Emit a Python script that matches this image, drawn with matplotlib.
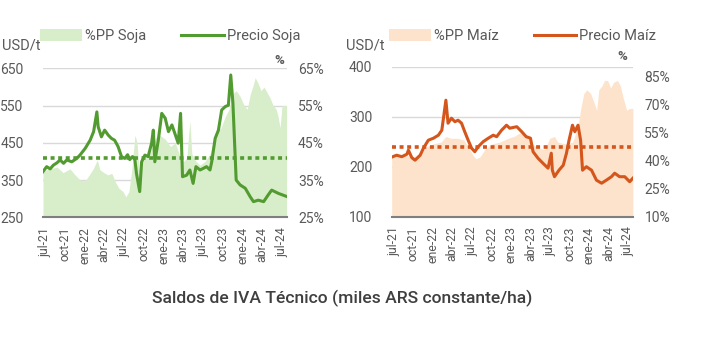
import numpy as np
import pandas as pd
import matplotlib
matplotlib.use("Agg")
import matplotlib.pyplot as plt
from matplotlib.lines import Line2D
from matplotlib.patches import Patch

plt.rcParams['font.family'] = ['Roboto', 'DejaVu Sans']

# ---- data ----
soja_price_dates = ['2021-06-21', '2021-07-09', '2021-07-25', '2021-08-09', '2021-08-25', '2021-09-09',
                    '2021-09-25', '2021-10-10', '2021-11-02', '2021-11-25', '2021-12-10', '2022-01-03',
                    '2022-01-26', '2022-02-11', '2022-02-26', '2022-03-04', '2022-03-19', '2022-04-03',
                    '2022-04-19', '2022-05-04', '2022-05-19', '2022-06-04', '2022-06-20', '2022-07-05',
                    '2022-07-18', '2022-07-28', '2022-08-10', '2022-08-21', '2022-08-28', '2022-09-12',
                    '2022-09-21', '2022-10-06', '2022-10-21', '2022-11-06', '2022-11-14', '2022-11-21',
                    '2022-12-07', '2022-12-23', '2023-01-08', '2023-01-23', '2023-02-08', '2023-02-24',
                    '2023-03-09', '2023-03-20', '2023-03-29', '2023-04-17', '2023-05-02', '2023-05-17',
                    '2023-05-30', '2023-06-18', '2023-07-02', '2023-07-18', '2023-08-03', '2023-08-11',
                    '2023-08-27', '2023-09-11', '2023-09-26', '2023-10-12', '2023-10-27', '2023-11-07',
                    '2023-11-17', '2023-12-02', '2023-12-20', '2024-01-13', '2024-02-05', '2024-02-20',
                    '2024-03-13', '2024-04-07', '2024-04-28', '2024-05-14', '2024-06-15', '2024-07-22']
soja_price = [372, 386, 380, 390, 396, 404, 395, 404, 399, 408, 417, 435,
              457, 480, 533, 493, 466, 484, 471, 462, 457, 440, 413, 408,
              418, 405, 413, 404, 368, 319, 399, 417, 413, 449, 484, 399,
              457, 529, 516, 480, 498, 471, 449, 529, 359, 363, 377, 341,
              386, 377, 381, 386, 377, 399, 462, 484, 538, 547, 551, 632,
              556, 350, 337, 328, 305, 292, 296, 292, 310, 323, 314, 306]
soja_avg = 410

soja_pp_dates = ['2021-06-22', '2021-07-24', '2021-08-26', '2021-09-23', '2021-10-25', '2021-11-17',
                 '2021-12-11', '2022-01-03', '2022-01-22', '2022-02-09', '2022-02-28', '2022-03-12',
                 '2022-03-30', '2022-04-18', '2022-05-06', '2022-05-25', '2022-06-08', '2022-06-27',
                 '2022-07-10', '2022-07-24', '2022-08-07', '2022-08-21', '2022-08-31', '2022-09-09',
                 '2022-09-23', '2022-10-11', '2022-10-30', '2022-11-13', '2022-11-27', '2022-12-15',
                 '2023-01-08', '2023-02-01', '2023-02-24', '2023-03-07', '2023-03-21', '2023-04-04',
                 '2023-04-18', '2023-05-02', '2023-05-11', '2023-05-30', '2023-06-18', '2023-07-11',
                 '2023-08-03', '2023-08-17', '2023-09-05', '2023-09-23', '2023-10-12', '2023-10-30',
                 '2023-11-13', '2023-12-02', '2023-12-20', '2024-01-08', '2024-01-22', '2024-02-05',
                 '2024-02-19', '2024-02-28', '2024-03-12', '2024-03-26', '2024-04-09', '2024-04-23',
                 '2024-05-07', '2024-05-21', '2024-06-04', '2024-06-13', '2024-06-22', '2024-07-01',
                 '2024-07-22']
soja_pp = [37.5, 38, 38.5, 37, 38, 36.4, 35, 34.8, 36.4, 38, 40.4, 37.8,
           37, 36.4, 36.8, 34.2, 32.8, 31.9, 30.5, 31.9, 38, 47.1, 45, 37.7,
           40.4, 41, 42, 44.9, 46.5, 47, 46, 44, 45, 43, 41, 40,
           41, 51, 42, 40, 39, 40, 42, 45, 48, 49, 52, 54,
           58, 59, 57.5, 55, 54, 58, 60.5, 62.5, 61, 59, 60, 58.5,
           57, 55, 54, 52, 49, 55, 55]

maiz_price_dates = ['2021-06-27', '2021-07-15', '2021-08-08', '2021-09-01', '2021-09-08', '2021-09-24',
                    '2021-10-09', '2021-11-02', '2021-11-17', '2021-12-10', '2022-01-03', '2022-01-26',
                    '2022-02-11', '2022-03-02', '2022-03-12', '2022-03-28', '2022-04-13', '2022-04-28',
                    '2022-05-14', '2022-05-29', '2022-06-14', '2022-06-30', '2022-07-15', '2022-07-31',
                    '2022-08-23', '2022-09-16', '2022-10-09', '2022-10-25', '2022-11-17', '2022-12-10',
                    '2022-12-25', '2023-01-27', '2023-02-19', '2023-03-12', '2023-04-01', '2023-04-13',
                    '2023-05-06', '2023-05-29', '2023-06-22', '2023-07-07', '2023-07-12', '2023-07-22',
                    '2023-08-12', '2023-09-01', '2023-09-16', '2023-09-28', '2023-10-14', '2023-10-25',
                    '2023-11-09', '2023-11-21', '2023-11-30', '2023-12-18', '2024-01-11', '2024-02-03',
                    '2024-02-27', '2024-03-20', '2024-04-13', '2024-04-28', '2024-05-21', '2024-06-14',
                    '2024-07-07', '2024-07-22']
maiz_price = [220, 223, 220, 225, 233, 218, 213, 223, 237, 253, 257, 263,
              273, 333, 287, 297, 290, 293, 287, 270, 253, 237, 230, 240,
              250, 257, 263, 260, 273, 283, 277, 280, 270, 260, 257, 230,
              217, 207, 197, 227, 193, 180, 193, 203, 227, 253, 283, 270,
              283, 253, 193, 200, 193, 173, 167, 173, 180, 187, 180, 180,
              170, 177]
maiz_avg = 240

maiz_pp_dates = ['2021-06-22', '2021-08-23', '2021-09-30', '2021-11-02', '2021-11-25', '2022-01-02',
                 '2022-02-08', '2022-03-02', '2022-03-25', '2022-04-27', '2022-05-25', '2022-06-17',
                 '2022-07-06', '2022-07-20', '2022-08-08', '2022-08-31', '2022-10-03', '2022-11-10',
                 '2022-12-17', '2023-01-14', '2023-02-11', '2023-03-14', '2023-04-02', '2023-04-30',
                 '2023-06-07', '2023-06-30', '2023-07-22', '2023-08-06', '2023-09-08', '2023-10-15',
                 '2023-11-08', '2023-11-22', '2023-12-06', '2023-12-20', '2024-01-07', '2024-01-26',
                 '2024-02-04', '2024-02-14', '2024-02-28', '2024-03-12', '2024-03-26', '2024-04-09',
                 '2024-04-23', '2024-05-11', '2024-05-25', '2024-06-06', '2024-06-23', '2024-07-07',
                 '2024-07-22']
maiz_pp = [43, 43, 42, 44, 47, 49, 50, 53, 52, 52, 51, 47,
           43, 41, 42, 46, 49, 50, 52, 53, 55, 54, 50, 47,
           46, 52, 53, 50, 49, 50, 58, 68, 76, 78, 76, 70,
           67, 78, 80, 83, 83, 79, 82, 83, 80, 74, 67, 68,
           68]

tick_dates = ['2021-07-01', '2021-10-01', '2022-01-01', '2022-04-01', '2022-07-01', '2022-10-01',
              '2023-01-01', '2023-04-01', '2023-07-01', '2023-10-01', '2024-01-01', '2024-04-01',
              '2024-07-01']
tick_labels = ['jul-21', 'oct-21', 'ene-22', 'abr-22', 'jul-22', 'oct-22', 'ene-23', 'abr-23',
               'jul-23', 'oct-23', 'ene-24', 'abr-24', 'jul-24']

x_start, x_end = '2021-06-22', '2024-07-24'
TXT = '#595959'

fig = plt.figure(figsize=(7.24, 3.47), dpi=100)


def panel(rect, pdates, price, avg, adates, pp, ylim, yticks, pct_lim, pct_ticks,
          line_col, area_col, names):
    ax = fig.add_axes(rect)      # grid + left/x labels
    ax2 = ax.twinx()             # %PP area
    ax3 = ax.twinx()             # price line on top

    ad = pd.to_datetime(adates)
    ax2.fill_between(ad, pct_lim[0], pp, color=area_col, lw=0)
    ax2.set_ylim(*pct_lim)
    ax2.set_yticks(pct_ticks)
    ax2.set_yticklabels([f'{t}%' for t in pct_ticks])

    pdts = pd.to_datetime(pdates)
    ax3.plot(pdts, price, color=line_col, lw=2.2, solid_joinstyle='round')
    ax3.plot(pd.to_datetime([x_start, x_end]), [avg, avg], color=line_col, lw=2.6,
             dashes=(1.1, 1.0))
    ax3.set_ylim(*ylim)
    ax3.set_yticks([])

    ax.set_ylim(*ylim)
    ax.set_yticks(yticks)
    ax.grid(axis='y', color='#d9d9d9', lw=1)
    ax.set_xlim(pd.Timestamp(x_start), pd.Timestamp(x_end))
    ax.set_xticks(pd.to_datetime(tick_dates))
    ax.set_xticklabels(tick_labels, rotation=90)

    for a in (ax, ax2, ax3):
        for s in a.spines.values():
            s.set_visible(False)
    ax3.spines['bottom'].set_visible(True)
    ax3.spines['bottom'].set_color('#7f7f7f')
    ax3.spines['bottom'].set_linewidth(1.5)

    ax.tick_params(axis='y', length=0, pad=14, labelsize=10, labelcolor=TXT)
    ax.tick_params(axis='x', length=0, pad=7, labelsize=8.8, labelcolor=TXT)
    ax2.tick_params(axis='y', length=0, pad=8, labelsize=10, labelcolor=TXT)
    ax3.tick_params(length=0)

    handles = [Patch(facecolor=area_col, edgecolor='none'),
               Line2D([], [], color=line_col, lw=2.2)]
    ax.legend(handles, names, ncol=2, frameon=False, fontsize=10.5, labelcolor=TXT,
              loc='center left', bbox_to_anchor=(rect[0] - 3 / 724, 1 - 36 / 347),
              bbox_transform=fig.transFigure, borderaxespad=0, borderpad=0,
              handlelength=2.9, handletextpad=0.2, columnspacing=2.4, handleheight=0.9)
    return ax


panel([43 / 724, 1 - 217.3 / 347, 244 / 724, 149 / 347], soja_price_dates, soja_price, soja_avg,
      soja_pp_dates, soja_pp, (250, 650), [250, 350, 450, 550, 650], (25, 65),
      [25, 35, 45, 55, 65], '#529b30', '#d8eecb', ['%PP Soja', 'Precio Soja'])
panel([391.7 / 724, 1 - 216.7 / 347, 241.6 / 724, 150 / 347], maiz_price_dates, maiz_price, maiz_avg,
      maiz_pp_dates, maiz_pp, (100, 400), [100, 200, 300, 400], (10, 10 + 150 * 75 / 140),
      [10, 25, 40, 55, 70, 85], '#d4561c', '#fde3cc', ['%PP Maíz', 'Precio Maíz'])

fig.text(2 / 724, 1 - 45 / 347, 'USD/t', fontsize=10.5, color=TXT, va='center', ha='left')
fig.text(346 / 724, 1 - 45 / 347, 'USD/t', fontsize=10.5, color=TXT, va='center', ha='left')
fig.text(279 / 724, 1 - 60 / 347, '%', fontsize=9.5, color=TXT, va='center', ha='center',
         fontweight='bold')
fig.text(622 / 724, 1 - 56 / 347, '%', fontsize=9.5, color=TXT, va='center', ha='center',
         fontweight='bold')

fig.text(342 / 724, 1 - 298 / 347, 'Saldos de IVA Técnico (miles ARS constante/ha)',
         fontsize=12.6, color='#3f3f3f', ha='center', va='center', fontweight='medium')

fig.savefig('out.png', dpi=100)
